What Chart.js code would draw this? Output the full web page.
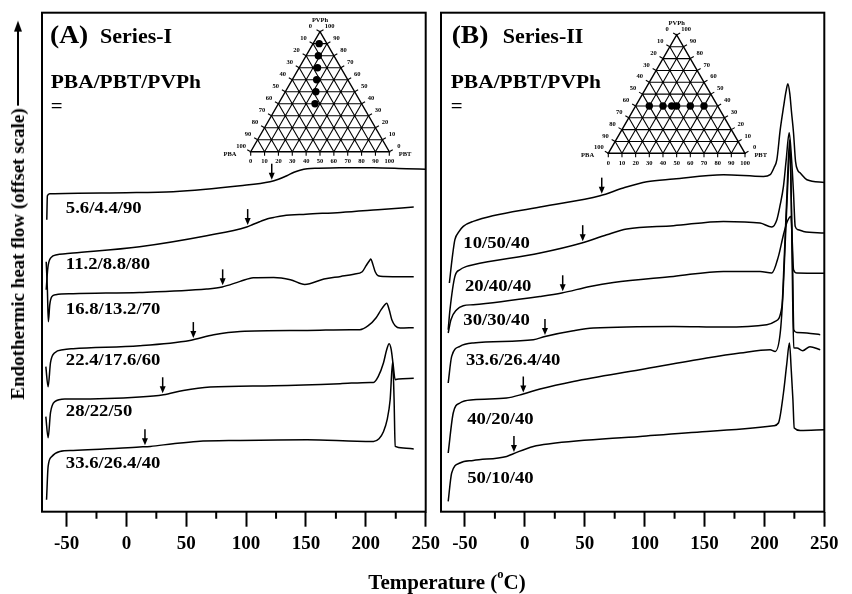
<!DOCTYPE html>
<html>
<head>
<meta charset="utf-8">
<script src="https://cdn.jsdelivr.net/npm/chart.js@4.4.1/dist/chart.umd.min.js"></script>
<style>
  body { margin: 0; background: #fff; }
  #wrap { position: relative; width: 852px; height: 594px; overflow: hidden;
          font-family: "Liberation Serif", "Times New Roman", serif; font-weight: bold; color: #000; }
  canvas { position: absolute; left: 0; top: 0; }
  #ytitle { position: absolute; left: 18px; top: 210px; white-space: nowrap; font-size: 19px;
            transform: translate(-50%, -50%) rotate(-90deg); display: flex; align-items: center; }
  #ytitle .shaft { display: inline-block; width: 74px; height: 2px; background: #000; margin-left: 3px; }
  #ytitle .head { display: inline-block; width: 0; height: 0; border-left: 11px solid #000;
                  border-top: 4px solid transparent; border-bottom: 4px solid transparent; }
  #xtitle { position: absolute; left: 447px; top: 582px; white-space: nowrap; font-size: 21px;
            transform: translate(-50%, -50%); }
  #xtitle sup { font-size: 0.6em; position: relative; top: -0.2em; line-height: 0; }
</style>
</head>
<body>
<div id="wrap">
  <canvas id="chartA" width="852" height="594"></canvas>
  <canvas id="chartB" width="852" height="594"></canvas>
  <div id="ytitle"><span>Endothermic heat flow (offset scale)</span><span class="shaft"></span><span class="head"></span></div>
  <div id="xtitle">Temperature (<sup>o</sup>C)</div>
</div>
<script>
// compositions PBA/PBT/PVPh
const components = ["PBA", "PBT", "PVPh"];
const labelsA = ["5.6/4.4/90", "11.2/8.8/80", "16.8/13.2/70", "22.4/17.6/60", "28/22/50", "33.6/26.4/40"];
const labelsB = ["10/50/40", "20/40/40", "30/30/40", "33.6/26.4/40", "40/20/40", "50/10/40"];
const xTicks = [-50, 0, 50, 100, 150, 200, 250];
const xMinorTicks = [-25, 25, 75, 125, 175, 225];

// Tg marked by the arrows (oC)
const tgA = [121.4, 101.3, 80.4, 55.9, 30.3, 15.5];
const tgB = [64.2, 48.3, 31.6, 16.8, -1.3, -9.1];

// Series-I traces: temperature (oC) and heat flow (a.u., offset included)
const tempA = [
  [-66.5, -66, -64, 0, 39, 95, 120, 127, 134, 140, 145, 151, 160, 178, 206, 234, 250],
  [-67, -65.6, -63, -58, -51, -44.5, 11, 67, 100.5, 106, 112, 118, 123, 131, 150, 179, 210, 240],
  [-67, -66, -65.2, -64, -62.3, -59, -44.5, 11, 67, 80, 95, 106, 123, 137, 149, 165, 179, 190, 197, 200.2, 203, 204.2, 205.7, 207.8, 210.3, 215, 240],
  [-67.3, -65.4, -63.4, -59.8, -53, -44.5, 11, 53, 73, 95, 151, 187, 195, 202, 208.6, 212.8, 215.5, 217.4, 219.5, 221.7, 224.5, 228.7, 240],
  [-67.3, -65.4, -63.4, -59.8, -51.4, -44.5, 11, 31, 47.5, 70, 123, 178.5, 203.6, 206.4, 210.3, 214.7, 217.4, 219.5, 221.2, 222.8, 224.5, 227.3, 240],
  [-66.7, -65.4, -62.5, -55.6, -44.5, 11, 20, 39, 59, 95, 151, 192.5, 206.4, 211, 214.7, 217.8, 220.3, 222.4, 223.6, 224.5, 231.4, 240]
];
const flowA = [
  [292, 316, 318, 319, 320, 326, 330, 332.5, 336, 339.5, 341.5, 343, 343.5, 344, 344, 343, 342.5],
  [222, 244, 254, 257, 258, 258.7, 265, 276, 284.7, 287.5, 290.3, 293, 294.3, 296, 297.5, 299.3, 302, 304.7],
  [250, 222, 190, 207, 215, 217, 218, 219.3, 222.7, 224.7, 230.3, 234, 234.3, 232, 227.3, 232.7, 235.3, 237.5, 240, 246, 251, 252.7, 248, 240, 236, 235.3, 235],
  [145, 125, 149, 159, 162, 163, 166, 171.3, 177, 180.3, 181.3, 182, 182, 186, 194, 202, 206.5, 208.5, 202, 192, 186, 183.7, 184],
  [95, 74, 99, 110, 112.7, 112.7, 114.7, 117, 121.3, 124.7, 126, 128, 129.3, 129.3, 135, 148.7, 162, 168, 162, 147, 132, 132.7, 133.5],
  [12, 45, 55, 60.3, 61.3, 64.7, 65.3, 68, 70.3, 71.3, 72, 70.5, 70.3, 73, 80, 92, 112, 150, 112, 65.3, 63.7, 62.7]
];

// Series-II traces
const tempB = [
  [-63, -60.5, -58.4, -55, -51.4, -43.1, 12.7, 62.8, 82.2, 101.8, 124, 165.8, 199.2, 204.8, 208, 210.4, 213.2, 216, 218, 219.6, 221.2, 222.6, 224.3, 226, 228, 229.9, 235.5, 250],
  [-64, -62.5, -58.4, -54.2, -48.6, -43.1, 12.7, 47.5, 68.4, 85.1, 124, 165.8, 196.4, 206.2, 210.4, 213.2, 215.9, 218.2, 220.7, 222.7, 224.3, 225.7, 228.2, 232.6, 250],
  [-64, -61.7, -56.9, -51.4, -43.1, 12.7, 30.8, 54.4, 73.9, 124, 165.8, 196.4, 206.2, 211.7, 215.9, 219, 222.1, 223.2, 224.3, 227.1, 250],
  [-64, -61.1, -54.2, -43.1, 7.1, 16.8, 40.5, 57.2, 124, 165.8, 202, 209, 214.6, 216.5, 218.6, 221.1, 222.4, 223.6, 224.5, 227.1, 235.5, 246.6],
  [-64, -59.8, -54.2, -43.1, -15.2, -1.3, 12.7, 40.5, 96.2, 151.9, 179.7, 204.8, 209, 213.2, 215.7, 218.2, 221.5, 222.7, 223.6, 224.5, 227.1, 232, 238, 246.6],
  [-64, -61.1, -54.2, -43.1, -15.2, -9.6, 7.1, 21, 96.2, 151.9, 207.6, 211.7, 215.9, 218.6, 220.9, 222.4, 223.8, 224.9, 229.9, 250]
];
const flowB = [
  [228.7, 255, 272, 280, 285.3, 290.3, 304.7, 316, 323.7, 330, 332.7, 337, 335.3, 337, 344, 352, 382, 405, 420, 428, 418, 400, 379, 350, 341, 338.7, 332, 329.3],
  [182, 202, 235.3, 242, 245.3, 247, 258.7, 268.7, 277, 282.7, 286, 290.3, 288.7, 284.7, 292, 307, 325.3, 352, 379, 352, 318.7, 285.3, 282, 280.3, 278.7],
  [178.7, 192, 202, 206, 207, 215.3, 218.7, 225.3, 229.3, 235.3, 240.3, 240.3, 238.7, 255.3, 277, 290, 295.3, 272, 242, 238.7, 238.5],
  [128.7, 155.3, 165.3, 168.7, 172, 175.3, 181, 183.7, 185.3, 184.7, 187, 190.3, 205, 252, 312, 372, 312, 242, 182, 179.3, 178.7, 177],
  [58.7, 98.7, 108.7, 112, 113.7, 117.7, 122.7, 130.3, 142, 153.7, 158.7, 162, 160.3, 178.7, 222, 292, 362, 292, 212, 164, 163.7, 161, 165, 162],
  [10.3, 38.7, 48.7, 51.3, 55.3, 58, 65.3, 68, 75.3, 80.3, 86, 88.7, 118.7, 147, 168.7, 142, 112, 83.7, 81.3, 82]
];

const fontFam = '"Liberation Serif", "Times New Roman", serif';

function valueAt(ts, vs, t) {
  for (let i = 1; i < ts.length; i++) {
    if (t <= ts[i]) {
      const f = (t - ts[i - 1]) / (ts[i] - ts[i - 1]);
      return vs[i - 1] + f * (vs[i] - vs[i - 1]);
    }
  }
  return vs[vs.length - 1];
}

function wideText(ctx, text, x, y, size, sx, align) {
  ctx.save();
  ctx.font = "bold " + size + "px " + fontFam;
  ctx.fillStyle = "#000";
  ctx.textAlign = align || "left";
  ctx.textBaseline = "alphabetic";
  ctx.translate(x, y);
  ctx.scale(sx, 1);
  ctx.fillText(text, 0, 0);
  ctx.restore();
}

function drawTernary(ctx, ox, oy, side, comps) {
  const H = side * Math.sqrt(3) / 2;
  const P = (b, c) => [ox + side * (b + c / 2), oy - H * c]; // b = PBT, c = PVPh
  ctx.save();
  ctx.strokeStyle = "#000";
  ctx.lineWidth = 1.1;
  ctx.beginPath();
  for (let i = 1; i < 10; i++) {
    const f = i / 10;
    let p = P(0, f), q = P(1 - f, f);
    ctx.moveTo(p[0], p[1]); ctx.lineTo(q[0], q[1]);
    p = P(f, 0); q = P(f, 1 - f);
    ctx.moveTo(p[0], p[1]); ctx.lineTo(q[0], q[1]);
    p = P(1 - f, 0); q = P(0, 1 - f);
    ctx.moveTo(p[0], p[1]); ctx.lineTo(q[0], q[1]);
  }
  ctx.stroke();
  ctx.lineWidth = 1.4;
  ctx.beginPath();
  let a = P(0, 0), b = P(1, 0), c = P(0, 1);
  ctx.moveTo(a[0], a[1]); ctx.lineTo(b[0], b[1]); ctx.lineTo(c[0], c[1]); ctx.closePath();
  ctx.stroke();

  ctx.font = "bold 6.5px " + fontFam;
  ctx.fillStyle = "#000";
  ctx.textAlign = "center";
  ctx.textBaseline = "middle";
  ctx.lineWidth = 1.1;
  const cx = Math.cos(Math.PI / 6), sy = 0.5;
  for (let i = 0; i <= 10; i++) {
    const f = i / 10, txt = String(i * 10);
    let p = P(f, 0);
    ctx.beginPath(); ctx.moveTo(p[0], p[1]); ctx.lineTo(p[0], p[1] + 4); ctx.stroke();
    ctx.fillText(txt, p[0], p[1] + 10);
    p = P(0, 1 - f);
    ctx.beginPath(); ctx.moveTo(p[0], p[1]); ctx.lineTo(p[0] - 4 * cx, p[1] - 4 * sy); ctx.stroke();
    ctx.fillText(txt, p[0] - 11 * cx, p[1] - 11 * sy);
    p = P(1 - f, f);
    ctx.beginPath(); ctx.moveTo(p[0], p[1]); ctx.lineTo(p[0] + 4 * cx, p[1] - 4 * sy); ctx.stroke();
    ctx.fillText(txt, p[0] + 11 * cx, p[1] - 11 * sy);
  }
  ctx.fillText(components[0], a[0] - 20.7, a[1] + 2.3);
  ctx.fillText(components[1], b[0] + 15.7, b[1] + 2.3);
  ctx.fillText(components[2], c[0], c[1] - 11.7);

  comps.forEach(s => {
    const v = s.split("/").map(Number);
    const p = P(v[1] / 100, v[2] / 100);
    ctx.beginPath(); ctx.arc(p[0], p[1], 3.7, 0, Math.PI * 2); ctx.fill();
  });
  ctx.restore();
}

const decoPlugin = {
  id: "deco",
  afterDraw(chart, args, o) {
    const ctx = chart.ctx, area = chart.chartArea;
    const xs = chart.scales.x, ys = chart.scales.y;
    ctx.save();
    // frame
    ctx.strokeStyle = "#000";
    ctx.lineWidth = 2;
    ctx.strokeRect(area.left, area.top, area.right - area.left, area.bottom - area.top);
    // minor ticks
    ctx.beginPath();
    xMinorTicks.forEach(v => {
      const x = xs.getPixelForValue(v);
      ctx.moveTo(x, area.bottom); ctx.lineTo(x, area.bottom + 7);
    });
    ctx.stroke();

    // panel headings
    wideText(ctx, o.tag, area.left + o.tagDx, area.top + 30.3, 25, 1.1);
    wideText(ctx, o.series, area.left + o.seriesDx, area.top + 30.3, 20, 1.1);
    wideText(ctx, components.join("/"), area.left + o.headDx, area.top + 75.3, 19, 1.13);
    wideText(ctx, "=", area.left + o.headDx, area.top + 99.5, 19, 1.1);

    // curve labels
    o.labels.forEach((s, i) => {
      wideText(ctx, s, xs.getPixelForValue(o.labelT[i]), ys.getPixelForValue(o.labelV[i]), 17, 1.1);
    });

    // Tg arrows
    ctx.fillStyle = "#000";
    ctx.lineWidth = 1.5;
    o.tg.forEach((t, i) => {
      const x = xs.getPixelForValue(t);
      const tip = ys.getPixelForValue(valueAt(o.temps[i], o.flows[i], t)) - 1.5;
      ctx.beginPath(); ctx.moveTo(x, tip - 16); ctx.lineTo(x, tip - 5); ctx.stroke();
      ctx.beginPath(); ctx.moveTo(x - 3, tip - 7); ctx.lineTo(x + 3, tip - 7); ctx.lineTo(x, tip); ctx.closePath(); ctx.fill();
    });

    drawTernary(ctx, area.left + o.ternDx, area.top + o.ternDy, o.ternSide, o.labels);
    ctx.restore();
  }
};

function makeChart(id, temps, flows, xMin, padLeft, padRight, deco) {
  const datasets = temps.map((ts, i) => ({
    data: ts.map((t, j) => ({ x: t, y: flows[i][j] })),
    borderColor: "#000",
    borderWidth: 1.5,
    pointRadius: 0,
    fill: false,
    cubicInterpolationMode: "monotone"
  }));
  return new Chart(document.getElementById(id), {
    type: "line",
    data: { datasets },
    plugins: [decoPlugin],
    options: {
      responsive: false,
      animation: false,
      events: [],
      layout: { padding: { left: padLeft, right: padRight, top: 12.7, bottom: 0 } },
      plugins: { legend: { display: false }, tooltip: { enabled: false }, deco },
      scales: {
        x: {
          type: "linear",
          min: xMin,
          max: 250,
          afterBuildTicks: s => { s.ticks = xTicks.map(v => ({ value: v })); },
          afterFit: s => { s.height = 82.3; },
          grid: { drawOnChartArea: false, drawTicks: true, tickLength: 15, tickWidth: 2, tickColor: "#000" },
          border: { display: false },
          ticks: {
            color: "#000",
            padding: 6,
            maxRotation: 0,
            font: { family: fontFam, size: 19, weight: "bold" },
            callback: v => String(v)
          }
        },
        y: { display: false, min: 0, max: 499 }
      }
    }
  });
}

makeChart("chartA", tempA, flowA, -70.5, 42, 426.3, {
  tag: "(A)", series: "Series-I", tagDx: 8, seriesDx: 58, headDx: 8.7,
  labels: labelsA, labelT: [-50.6, -50.6, -50.6, -50.6, -50.6, -50.6],
  labelV: [298.7, 243, 198, 147, 95.3, 43.7],
  tg: tgA, temps: tempA, flows: flowA,
  ternDx: 208.7, ternDy: 139, ternSide: 138.6
});
makeChart("chartB", tempB, flowB, -70, 441, 27.7, {
  tag: "(B)", series: "Series-II", tagDx: 10.7, seriesDx: 61.7, headDx: 9.7,
  labels: labelsB, labelT: [-51.4, -50, -51.4, -49.2, -48.1, -48.1],
  labelV: [263.7, 220.3, 186.3, 147, 88, 28.7],
  tg: tgB, temps: tempB, flows: flowB,
  ternDx: 167.3, ternDy: 140.6, ternSide: 136.7
});
</script>
</body>
</html>
